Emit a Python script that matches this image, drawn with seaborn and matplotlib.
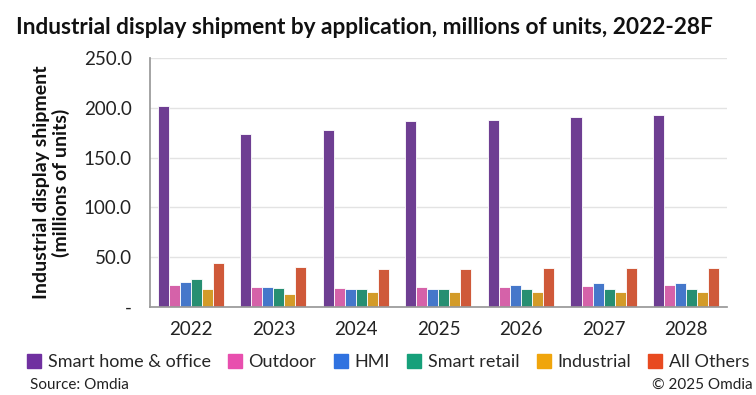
import pandas as pd
import seaborn as sns
import matplotlib.pyplot as plt
from matplotlib.lines import Line2D

years = ["2022", "2023", "2024", "2025", "2026", "2027", "2028"]
applications = ["Smart home & office", "Outdoor", "HMI", "Smart retail", "Industrial", "All Others"]

smart_home = [202.0, 173.4, 177.8, 186.9, 187.9, 190.3, 192.6]
outdoor = [21.9, 19.6, 19.3, 19.6, 19.9, 20.9, 21.9]
hmi = [24.6, 19.6, 17.9, 17.9, 21.6, 24.2, 24.2]
smart_retail = [27.7, 18.6, 17.9, 17.9, 17.9, 17.9, 17.9]
industrial = [17.9, 13.1, 14.5, 14.5, 14.5, 14.5, 14.5]
all_others = [43.8, 40.1, 38.1, 38.1, 38.8, 38.8, 38.8]

colors = ["#7030A0", "#E84FAE", "#2F72E0", "#16A07A", "#F0A50C", "#E84A20"]

series = [smart_home, outdoor, hmi, smart_retail, industrial, all_others]
rows = []
for app, vals in zip(applications, series):
    for yr, v in zip(years, vals):
        rows.append({"year": yr, "application": app, "units": v})
df = pd.DataFrame(rows)

sns.set_theme(style="white")
plt.rcParams["font.family"] = ["Lato", "DejaVu Sans"]

fig = plt.figure(figsize=(7.56, 3.95), dpi=100)
ax = fig.add_axes([0.198, 0.223, 0.764, 0.63])

sns.barplot(data=df, x="year", y="units", hue="application", hue_order=applications,
            palette=colors, width=0.8, edgecolor="white", linewidth=0.6,
            legend=False, ax=ax)

ax.set_ylim(0, 250)
ax.set_xlim(-0.5, 6.5)
ax.set_yticks([0, 50, 100, 150, 200, 250])
ax.set_yticklabels(["-", "50.0", "100.0", "150.0", "200.0", "250.0"], fontsize=13.5, color="#222222")
ax.yaxis.grid(True, color="#E3E3E3", linewidth=1)
ax.set_axisbelow(True)

ax.set_xticks(range(len(years)))
ax.set_xticklabels(years, fontsize=13.5, color="#222222")
ax.set_xticks([i - 0.5 for i in range(len(years) + 1)], minor=True)
ax.tick_params(axis="x", which="major", length=0, pad=10)
ax.tick_params(axis="x", which="minor", length=5, color="#999999", width=1, direction="out")
ax.tick_params(axis="y", length=5, color="#999999", width=1, direction="out", pad=8)

for side in ["top", "right"]:
    ax.spines[side].set_visible(False)
ax.spines["left"].set_color("#999999")
ax.spines["bottom"].set_color("#999999")

ax.set_xlabel("")
ax.set_ylabel("Industrial display shipment\n(millions of units)", fontsize=14,
              fontweight="bold", color="#111111", labelpad=10, linespacing=1.1)

fig.text(0.021, 0.93, "Industrial display shipment by application, millions of units, 2022-28F",
         fontsize=16.3, fontweight="bold", color="#111111", va="center", ha="left")

handles = [Line2D([0], [0], marker="s", linestyle="", markersize=10, color=c) for c in colors]
fig.legend(handles, applications, loc="center", bbox_to_anchor=(0.512, 0.083), ncol=6,
           frameon=False, fontsize=13, handletextpad=0.25, columnspacing=0.85,
           handlelength=1.0, borderaxespad=0)

fig.text(0.04, 0.025, "Source: Omdia", fontsize=11, color="#222222", ha="left", va="center")
fig.text(0.995, 0.025, "\u00a9 2025 Omdia", fontsize=11, color="#222222", ha="right", va="center")

fig.savefig("out.png", dpi=100, facecolor="white")
